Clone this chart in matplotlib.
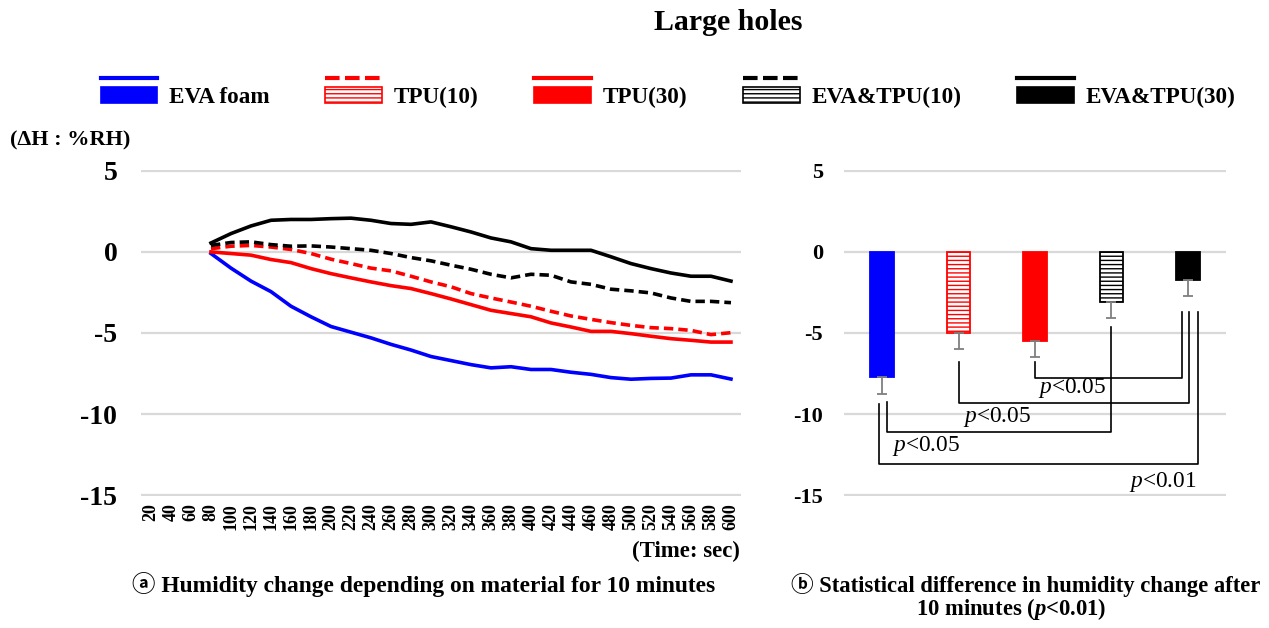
import numpy as np
import matplotlib
matplotlib.use('Agg')
import matplotlib.pyplot as plt
from matplotlib.lines import Line2D
from matplotlib.patches import Rectangle
from matplotlib.legend_handler import HandlerBase

plt.rcParams['font.family'] = ['Liberation Serif', 'DejaVu Sans', 'Noto Sans CJK SC']
plt.rcParams['font.weight'] = 'bold'
plt.rcParams['axes.unicode_minus'] = False
plt.rcParams['mathtext.fontset'] = 'custom'
plt.rcParams['mathtext.rm'] = 'Liberation Serif:normal'
plt.rcParams['mathtext.it'] = 'Liberation Serif:italic:normal'
plt.rcParams['mathtext.bf'] = 'Liberation Serif:bold'
plt.rcParams['mathtext.bfit'] = 'Liberation Serif:italic:bold'
plt.rcParams['hatch.linewidth'] = 1.0

# данные
time_labels = ['20', '40', '60', '80', '100', '120', '140', '160', '180', '200',
               '220', '240', '260', '280', '300', '320', '340', '360', '380', '400',
               '420', '440', '460', '480', '500', '520', '540', '560', '580', '600']
nan = np.nan
eva_foam = [nan, nan, nan, -0.1, -1.0, -1.8, -2.45, -3.35, -4.0, -4.6,
            -4.95, -5.3, -5.7, -6.05, -6.45, -6.7, -6.95, -7.15, -7.08, -7.25,
            -7.25, -7.42, -7.55, -7.75, -7.85, -7.8, -7.78, -7.58, -7.58, -7.84]
tpu10 = [nan, nan, nan, 0.2, 0.35, 0.4, 0.3, 0.15, -0.1, -0.45,
         -0.72, -1.0, -1.17, -1.5, -1.85, -2.15, -2.57, -2.84, -3.09, -3.35,
         -3.66, -3.95, -4.16, -4.36, -4.53, -4.67, -4.73, -4.84, -5.1, -4.98]
tpu30 = [nan, nan, nan, 0.0, -0.1, -0.2, -0.47, -0.66, -1.03, -1.34,
         -1.6, -1.85, -2.08, -2.26, -2.57, -2.9, -3.25, -3.6, -3.8, -4.0,
         -4.38, -4.63, -4.9, -4.9, -5.04, -5.2, -5.35, -5.45, -5.56, -5.56]
eva_tpu10 = [nan, nan, nan, 0.4, 0.58, 0.62, 0.45, 0.35, 0.37, 0.3,
             0.2, 0.1, -0.1, -0.35, -0.55, -0.82, -1.07, -1.38, -1.6, -1.38,
             -1.44, -1.85, -2.0, -2.3, -2.4, -2.53, -2.84, -3.05, -3.05, -3.13]
eva_tpu30 = [nan, nan, nan, 0.55, 1.13, 1.6, 1.95, 2.0, 2.0, 2.05,
             2.08, 1.95, 1.75, 1.7, 1.85, 1.55, 1.23, 0.86, 0.62, 0.2,
             0.1, 0.1, 0.1, -0.3, -0.72, -1.03, -1.3, -1.5, -1.5, -1.8]

materials = ['EVA foam', 'TPU(10)', 'TPU(30)', 'EVA&TPU(10)', 'EVA&TPU(30)']
bar_means = [-7.74, -4.99, -5.5, -3.1, -1.73]
bar_errs = [1.03, 0.98, 0.98, 1.0, 1.0]

# скобки значимости: (x лев, y лев, x прав, y прав, y низ, текст, x текста, y текста)
brackets = [
    (2.0, -6.78, 3.93, -3.69, -7.8, '$\\mathit{p}$<0.05', 2.48, -8.42),
    (1.0, -6.78, 4.02, -3.69, -9.3, '$\\mathit{p}$<0.05', 1.51, -10.15),
    (0.06, -9.24, 3.0, -4.65, -11.13, '$\\mathit{p}$<0.05', 0.57, -11.99),
    (-0.04, -9.38, 4.13, -3.69, -13.05, '$\\mathit{p}$<0.01', 3.68, -14.2),
]

BLUE = '#0000ff'
RED = '#ff0000'
BLACK = '#000000'
GRID = '#d9d9d9'

series = [
    (eva_foam, BLUE, '-'),
    (tpu10, RED, '--'),
    (tpu30, RED, '-'),
    (eva_tpu10, BLACK, '--'),
    (eva_tpu30, BLACK, '-'),
]
bar_style = [
    (BLUE, BLUE, None),
    ('white', RED, '----'),
    (RED, RED, None),
    ('white', BLACK, '----'),
    (BLACK, BLACK, None),
]

fig = plt.figure(figsize=(12.69, 6.28), dpi=100)
ax1 = fig.add_axes([0.1111, 0.2102, 0.4728, 0.5191])
ax2 = fig.add_axes([0.6651, 0.2102, 0.3010, 0.5191])

for ax in (ax1, ax2):
    ax.set_ylim(-15.05, 5.05)
    ax.set_yticks([5, 0, -5, -10, -15])
    ax.yaxis.grid(True, color=GRID, lw=1.6)
    ax.set_axisbelow(True)
    for s in ax.spines.values():
        s.set_visible(False)
    ax.tick_params(length=0)

# --- линии
x = np.arange(len(time_labels))
for vals, col, ls in series:
    ln, = ax1.plot(x, vals, color=col, lw=2.6, solid_joinstyle='round')
    if ls == '--':
        ln.set_dashes((2.6, 1.4))
ax1.set_xlim(-0.5, len(time_labels) - 0.5)
ax1.set_xticks(x, time_labels, rotation=90, fontsize=13)
ax1.tick_params(axis='x', pad=5)
ax1.tick_params(axis='y', labelsize=20, pad=17)

# --- столбцы
xb = np.arange(len(materials))
bars = ax2.bar(xb, bar_means, width=0.31, zorder=2)
for b, (fc, ec, h) in zip(bars, bar_style):
    b.set_facecolor(fc)
    b.set_edgecolor(ec)
    b.set_linewidth(1.3)
    if h:
        b.set_hatch(h)
ax2.errorbar(xb, bar_means, yerr=[bar_errs, [0] * len(bar_errs)], fmt='none',
             ecolor='#7f7f7f', elinewidth=1.3, capsize=3.5, capthick=1.3, zorder=3)
ax2.set_xlim(-0.5, len(materials) - 0.5)
ax2.set_xticks([])
ax2.tick_params(axis='y', labelsize=16, pad=15)

for xl, yl, xr, yr, yb, lab, tx, ty in brackets:
    ax2.plot([xl, xl, xr, xr], [yl, yb, yb, yr], color='black', lw=1.2, zorder=4)
    ax2.text(tx, ty, lab, ha='center', va='center', fontsize=16.8,
             fontweight='normal', zorder=5)


# --- легенда: линия сверху, прямоугольник снизу
class LegendKey:
    def __init__(self, color, ls, hatch):
        self.color = color
        self.ls = ls
        self.hatch = hatch


class LineBoxHandler(HandlerBase):
    def create_artists(self, legend, key, xdescent, ydescent, width, height, fontsize, trans):
        x0, y0 = -xdescent, -ydescent
        line = Line2D([x0, x0 + width], [y0 + 1.17 * height] * 2, color=key.color,
                      lw=3, transform=trans)
        if key.ls == '--':
            line.set_dashes((3.5, 1.3))
        box = Rectangle((x0, y0 + 0.2 * height), width, 0.63 * height,
                        facecolor=key.color if key.hatch is None else 'white',
                        edgecolor=key.color, hatch=key.hatch, lw=1.2, transform=trans)
        return [line, box]


keys = [LegendKey(col, ls, h) for (_, col, ls), (_, _, h) in zip(series, bar_style)]
fig.legend(keys, materials, loc='center', bbox_to_anchor=(668 / 1269, 1 - 95 / 628),
           ncol=5, frameon=False, handlelength=2.45, handleheight=1.3,
           handletextpad=0.5, columnspacing=2.4, fontsize=16.7,
           handler_map={LegendKey: LineBoxHandler()})

# --- подписи
fig.text(728 / 1269, 1 - 22 / 628, 'Large holes', ha='center', va='center', fontsize=21.5)
fig.text(10 / 1269, 1 - 140 / 628, '(ΔH : %RH)', ha='left', va='center', fontsize=16)
fig.text(740 / 1269, 1 - 551 / 628, '(Time: sec)', ha='right', va='center', fontsize=16.5)
fig.text(424 / 1269, 1 - 585 / 628, 'ⓐ Humidity change depending on material for 10 minutes',
         ha='center', va='center', fontsize=16.9)
fig.text(1026 / 1269, 1 - 585 / 628, 'ⓑ Statistical difference in humidity change after',
         ha='center', va='center', fontsize=16.3)
fig.text(1011 / 1269, 1 - 609 / 628, '10 minutes ($\\mathbfit{p}$<0.01)',
         ha='center', va='center', fontsize=16.3)

fig.savefig('out.png', dpi=100, facecolor='white')
